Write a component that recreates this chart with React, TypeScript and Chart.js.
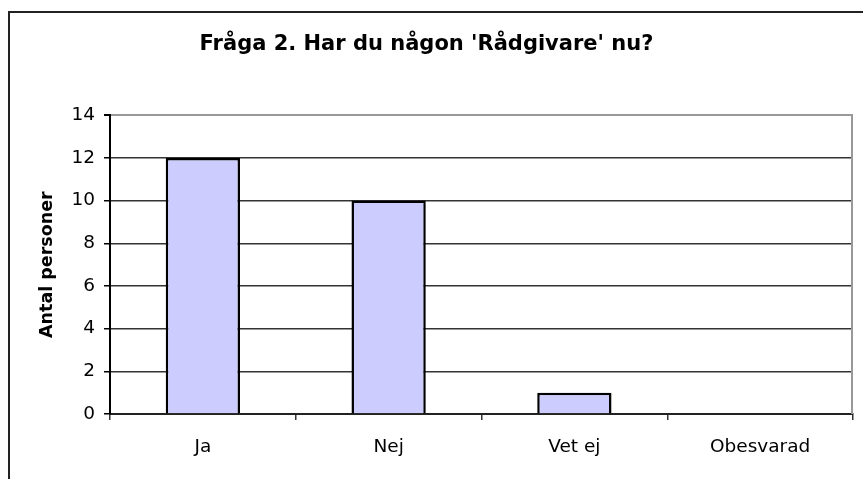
import React, { useEffect, useRef } from "react";
import { Chart, registerables } from "chart.js";

Chart.register(...registerables);

const categories = ["Ja", "Nej", "Vet ej", "Obesvarad"];
const values = [12, 10, 1, 0];
const yTicks = [0, 2, 4, 6, 8, 10, 12, 14];
const titleText = "Fråga 2. Har du någon 'Rådgivare' nu?";
const yTitleText = "Antal personer";

const FONT = "'DejaVu Sans', 'Liberation Sans', Arial, sans-serif";

const framePlugin = {
  id: "frame",
  beforeDraw(chart: any) {
    const { ctx, width, height } = chart;
    ctx.save();
    ctx.fillStyle = "#fff";
    ctx.fillRect(0, 0, width, height);
    ctx.strokeStyle = "#222";
    ctx.lineWidth = 2;
    ctx.beginPath();
    ctx.moveTo(9, height + 5);
    ctx.lineTo(9, 12);
    ctx.lineTo(width + 5, 12);
    ctx.stroke();
    ctx.restore();
  },
  afterDatasetsDraw(chart: any) {
    const { ctx, chartArea } = chart;
    ctx.save();
    ctx.strokeStyle = "#999";
    ctx.lineWidth = 2;
    ctx.beginPath();
    ctx.moveTo(chartArea.right - 1, chartArea.top);
    ctx.lineTo(chartArea.right - 1, chartArea.bottom);
    ctx.stroke();
    ctx.restore();
  },
};

export default function App() {
  const ref = useRef<HTMLCanvasElement | null>(null);
  useEffect(() => {
    if (!ref.current) return;
    const chart = new Chart(ref.current, {
      type: "bar",
      data: {
        labels: categories,
        datasets: [
          {
            data: values,
            backgroundColor: "#CCCCFF",
            borderColor: "#000",
            borderWidth: 2.5,
            borderSkipped: "start",
            barPercentage: 0.4,
            categoryPercentage: 1.0,
          },
        ],
      },
      options: {
        animation: false,
        responsive: false,
        devicePixelRatio: 1,
        layout: { padding: { left: 0, right: 10, top: 0, bottom: 0 } },
        plugins: {
          legend: { display: false },
          tooltip: { enabled: false },
          title: {
            display: true,
            text: titleText,
            color: "#000",
            font: { family: FONT, size: 21, weight: "bold" },
            padding: { top: 32, bottom: 58 },
          },
        },
        scales: {
          x: {
            offset: true,
            grid: {
              display: true,
              drawOnChartArea: false,
              offset: true,
              tickLength: 6,
              color: "#333",
              lineWidth: 1.5,
            },
            border: { display: true, color: "#222", width: 2 },
            ticks: {
              color: "#000",
              font: { family: FONT, size: 18.5 },
              padding: 16,
              maxRotation: 0,
            },
            afterFit: (scale: any) => {
              scale.height = 65;
            },
          },
          y: {
            min: yTicks[0],
            max: yTicks[yTicks.length - 1],
            afterBuildTicks: (scale: any) => {
              scale.ticks = yTicks.map((v) => ({ value: v }));
            },
            grid: {
              color: (c: any) => (c.tick && c.tick.value === 14 ? "#999" : "#333"),
              lineWidth: (c: any) => (c.tick && c.tick.value === 14 ? 2 : 1.5),
              tickColor: "#000",
              tickLength: 6,
            },
            border: { display: true, color: "#000", width: 2 },
            ticks: {
              color: "#000",
              font: { family: FONT, size: 18.5 },
              padding: 9,
            },
            title: {
              display: true,
              text: yTitleText,
              color: "#000",
              font: { family: FONT, size: 17.5, weight: "bold" },
              padding: { top: 37, bottom: 0 },
            },
            afterFit: (scale: any) => {
              scale.width = 110;
            },
          },
        },
      },
      plugins: [framePlugin],
    });
    return () => chart.destroy();
  }, []);
  return (
    <div style={{ position: "fixed", left: 0, top: 0, width: 863, height: 479, background: "#fff" }}>
      <canvas ref={ref} width={863} height={479} style={{ display: "block", width: 863, height: 479 }} />
    </div>
  );
}
